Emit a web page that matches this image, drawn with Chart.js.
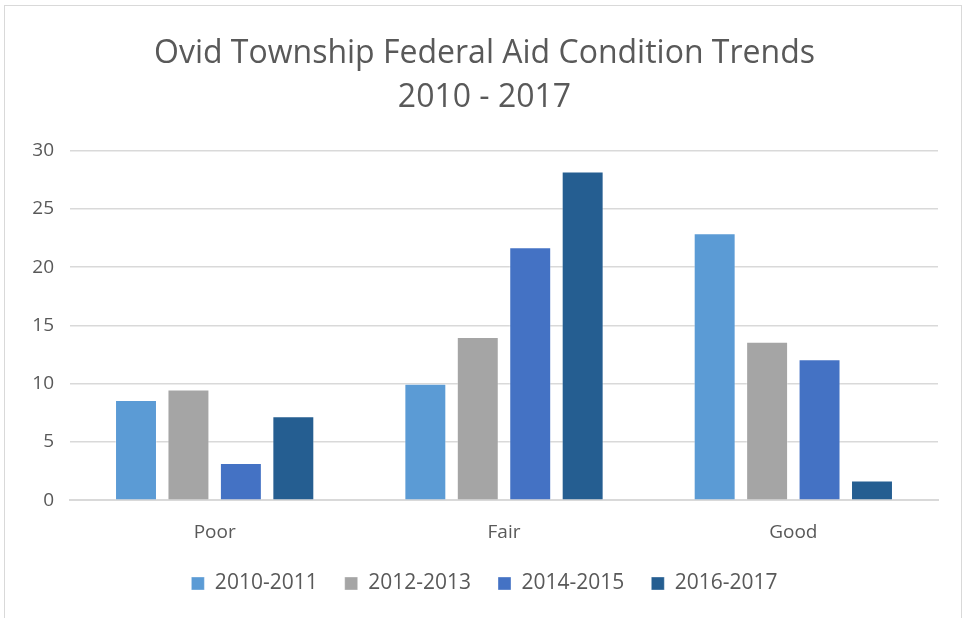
<!DOCTYPE html>
<html>
<head>
<meta charset="utf-8">
<script src="https://cdn.jsdelivr.net/npm/chart.js@4"></script>
<style>
  html, body { margin: 0; padding: 0; background: #fff; }
  #wrap { position: absolute; left: 4px; top: 5px; width: 958px; height: 620px; border: 1px solid #d9d9d9; box-sizing: border-box; }
  #chart { position: absolute; left: 0; top: 0; }
</style>
</head>
<body>
<div id="wrap"></div>
<canvas id="chart" width="967" height="618"></canvas>
<script>
// categories and series
var categories = ['Poor', 'Fair', 'Good'];
var seriesNames = ['2010-2011', '2012-2013', '2014-2015', '2016-2017'];
var values2010 = [8.6, 10.0, 22.9];
var values2012 = [9.5, 14.0, 13.6];
var values2014 = [3.2, 21.7, 12.1];
var values2016 = [7.2, 28.2, 1.7];
var seriesColors = ['#5B9BD5', '#A5A5A5', '#4472C4', '#255E91'];

var font = "'Open Sans', 'Liberation Sans', sans-serif";
var textColor = '#595959';

var allValues = [values2010, values2012, values2014, values2016];
var datasets = seriesNames.map(function(name, i) {
  return {
    label: name,
    data: allValues[i],
    backgroundColor: seriesColors[i],
    borderColor: 'rgba(255,255,255,0.35)',
    borderWidth: 1,
    categoryPercentage: 0.725,
    barPercentage: 0.8
  };
});

var ctx = document.getElementById('chart').getContext('2d');
new Chart(ctx, {
  type: 'bar',
  data: { labels: categories, datasets: datasets },
  options: {
    responsive: false,
    animation: false,
    layout: { padding: { left: 31, right: 29, top: 31, bottom: 14 } },
    plugins: {
      title: {
        display: true,
        text: ['Ovid Township Federal Aid Condition Trends', '2010 - 2017'],
        color: textColor,
        font: { family: font, size: 32, weight: 'normal', lineHeight: 1.4 },
        padding: { top: 0, bottom: 30 }
      },
      legend: {
        position: 'bottom',
        labels: {
          color: textColor,
          font: { family: font, size: 21 },
          boxWidth: 13,
          boxHeight: 13,
          padding: 27
        }
      },
      tooltip: { enabled: false }
    },
    scales: {
      x: {
        grid: { display: false, drawTicks: false },
        border: { color: '#d9d9d9', width: 2 },
        ticks: { color: textColor, font: { family: font, size: 19 }, padding: 21 },
        // let the category labels sit in the legend's empty top padding
        afterFit: function(scale) { scale.height = scale.height - 19; }
      },
      y: {
        min: 0,
        max: 30,
        ticks: { stepSize: 5, color: textColor, font: { family: font, size: 19 }, padding: 16 },
        grid: { color: '#d9d9d9', lineWidth: 1.5, drawTicks: false },
        border: { display: false },
        afterFit: function(scale) { scale.width = 39; }
      }
    }
  }
});
</script>
</body>
</html>
